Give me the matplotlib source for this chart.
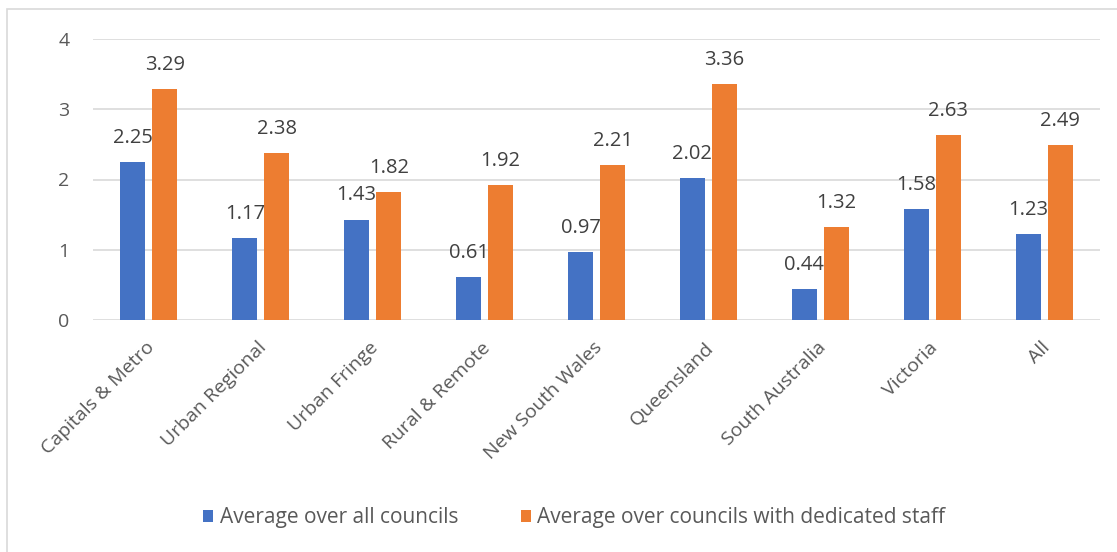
import matplotlib.pyplot as plt
import numpy as np
from matplotlib.patches import Rectangle
from matplotlib.transforms import ScaledTranslation

categories = ["Capitals & Metro", "Urban Regional", "Urban Fringe", "Rural & Remote",
              "New South Wales", "Queensland", "South Australia", "Victoria", "All"]
avg_all = [2.25, 1.17, 1.43, 0.61, 0.97, 2.02, 0.44, 1.58, 1.23]
avg_staff = [3.29, 2.38, 1.82, 1.92, 2.21, 3.36, 1.32, 2.63, 2.49]

plt.rcParams['font.family'] = ['Open Sans', 'DejaVu Sans']
txt = "#595959"

fig = plt.figure(figsize=(11.17, 5.52), dpi=100)
ax = fig.add_axes([93 / 1117, 1 - 320 / 552, 1007 / 1117, 281 / 552])

# light frame around the chart area
fig.patches.append(Rectangle((7 / 1117, -0.1), 1.2, 1 - 9 / 552 + 0.1,
                             transform=fig.transFigure, fill=False,
                             edgecolor="#d9d9d9", linewidth=1.2))

x = np.arange(len(categories))
w = 0.224
off = 0.143
b1 = ax.bar(x - off, avg_all, w, color="#4472c4", label="Average over all councils")
b2 = ax.bar(x + off, avg_staff, w, color="#ed7d31", label="Average over councils with dedicated staff")

for bars, vals in ((b1, avg_all), (b2, avg_staff)):
    for r, v in zip(bars, vals):
        ax.text(r.get_x() + r.get_width() / 2, v + 0.2, f"{v:.2f}",
                ha="center", va="bottom", fontsize=14.5, color="#404040")

ax.set_xlim(-0.5, len(categories) - 0.5)
ax.set_ylim(0, 4)
ax.set_yticks([0, 1, 2, 3, 4])
ax.yaxis.grid(True, color="#d9d9d9", linewidth=1.2)
ax.set_axisbelow(True)
for s in ax.spines.values():
    s.set_visible(False)
ax.tick_params(length=0, colors=txt, labelsize=14)
ax.tick_params(axis="y", pad=17)
ax.tick_params(axis="x", pad=18)
ax.set_xticks(x)
ax.set_xticklabels(categories, rotation=45, ha="right", va="center", rotation_mode="anchor")
shift = ScaledTranslation(3 / 100, 0, fig.dpi_scale_trans)
for lab in ax.get_xticklabels():
    lab.set_transform(lab.get_transform() + shift)

fig.legend(handles=[b1, b2], loc="center", bbox_to_anchor=(0.514, 1 - 518 / 552),
           ncol=2, frameon=False, fontsize=15, labelcolor=txt,
           handlelength=0.5, handleheight=0.5, handletextpad=0.3, columnspacing=3.0)

fig.savefig("out.png", dpi=100)
